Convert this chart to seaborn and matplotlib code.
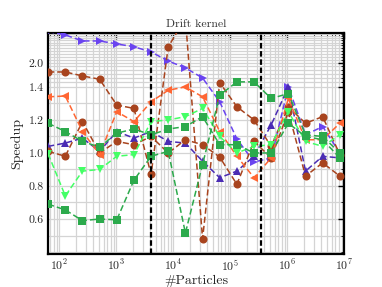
import numpy as np
import pandas as pd
import matplotlib
matplotlib.use("Agg")
import matplotlib.pyplot as plt
import matplotlib.ticker as mticker
import seaborn as sns

# particle counts: powers of two from 2^6 to 2^23
particles = [2 ** k for k in range(6, 24)]

# speedup per series
blue_right = [3.20, 3.04, 2.78, 2.78, 2.66, 2.55, 2.36, 2.06, 1.86, 1.60,
              1.31, 1.085, 0.945, 0.97, 1.40, 1.11, 1.16, 1.00]
blue_up = [1.04, 1.06, 1.09, 1.01, 1.13, 1.09, 1.13, 1.07, 1.06, 0.95,
           0.85, 0.89, 0.98, 1.17, 1.40, 0.89, 0.98, 0.97]
brown_a = [1.75, 1.75, 1.65, 1.57, 1.29, 1.27, 0.87, 2.55, 3.90, 0.48,
           1.49, 1.28, 1.20, 1.04, 1.28, 1.18, 1.22, 0.99]
brown_b = [1.01, 0.98, 1.19, 1.00, 1.07, 1.05, 1.10, 1.00, 1.08, 1.05,
           0.975, 0.81, 1.07, 0.97, 1.25, 0.86, 0.94, 0.86]
orange_left = [1.34, 1.345, 1.13, 0.99, 1.25, 1.19, 1.31, 1.38, 1.40, 1.34,
               1.13, 0.98, 0.85, 0.97, 1.33, 1.08, 1.08, 1.18]
lime_down = [0.995, 0.74, 0.89, 0.90, 0.98, 0.99, 1.19, 1.20, 1.22, 1.27,
             1.10, 1.00, 1.04, 1.05, 1.25, 1.07, 1.04, 1.11]
green_a = [0.69, 0.655, 0.59, 0.60, 0.595, 0.835, 0.98, 1.01, 0.515, 0.93,
           1.35, 1.51, 1.51, 1.33, 1.36, 1.11, 1.10, 1.00]
green_b = [1.18, 1.13, 1.07, 1.035, 1.12, 1.145, 1.11, 1.145, 1.16, 1.22,
           1.05, 1.05, 1.00, 1.00, 1.18, 1.10, 1.08, 0.97]

cache_limits = [4096, 350000]
ytick_vals = [0.6, 0.8, 1.0, 1.2, 1.4, 2.0]

series = {
    "blue_right": blue_right, "blue_up": blue_up,
    "brown_a": brown_a, "brown_b": brown_b,
    "orange_left": orange_left, "lime_down": lime_down,
    "green_a": green_a, "green_b": green_b,
}
colors = {
    "blue_right": "#6a44f0", "blue_up": "#4a2cb4",
    "brown_a": "#a8441e", "brown_b": "#a8441e",
    "orange_left": "#ff6633", "lime_down": "#44ff66",
    "green_a": "#2caa4c", "green_b": "#2caa4c",
}
markers = {
    "blue_right": ">", "blue_up": "^",
    "brown_a": "o", "brown_b": "o",
    "orange_left": "<", "lime_down": "v",
    "green_a": "s", "green_b": "s",
}

rows = []
for name, vals in series.items():
    for n, v in zip(particles, vals):
        rows.append({"n": n, "speedup": v, "series": name})
df = pd.DataFrame(rows)

sns.set_style("white")
plt.rcParams["font.family"] = "serif"
plt.rcParams["font.serif"] = ["cmr10", "DejaVu Serif"]
plt.rcParams["mathtext.fontset"] = "cm"
plt.rcParams["axes.formatter.use_mathtext"] = True
plt.rcParams["axes.unicode_minus"] = False


# linear up to 1.4, log-compressed above
def fwd(y):
    y = np.asarray(y, dtype=float)
    return np.where(y <= 1.4, y, 1.4 + 0.406 * np.log(np.maximum(y, 1e-9) / 1.4))


def inv(z):
    z = np.asarray(z, dtype=float)
    return np.where(z <= 1.4, z, 1.4 * np.exp((z - 1.4) / 0.406))


fig = plt.figure(figsize=(3.82, 2.87), dpi=100)
ax = fig.add_axes([0.126, 0.115, 0.775, 0.77])

sns.lineplot(data=df, x="n", y="speedup", hue="series", style="series",
             palette=colors, markers=markers,
             dashes={k: (4, 2) for k in series},
             linewidth=1.1, markersize=5.8, markeredgewidth=0,
             legend=False, ax=ax, zorder=3)

for c in cache_limits:
    ax.axvline(c, color="black", linestyle=(0, (2.5, 1.2)), linewidth=1.6, zorder=4)

ax.set_xscale("log")
ax.set_yscale("function", functions=(fwd, inv))
ax.set_xlim(64, 1e7)
ax.set_ylim(0.388, 3.13)

ax.yaxis.set_major_locator(mticker.FixedLocator(ytick_vals))
ax.yaxis.set_major_formatter(mticker.FormatStrFormatter("%.1f"))
ax.yaxis.set_minor_locator(mticker.FixedLocator(np.arange(0.4, 3.15, 0.1)))
ax.yaxis.set_minor_formatter(mticker.NullFormatter())
ax.xaxis.set_minor_locator(mticker.LogLocator(base=10, subs=np.arange(2, 10), numticks=20))

ax.grid(True, which="both", color="#d4d4d4", linewidth=0.9, zorder=0)
ax.set_axisbelow(True)

for s in ax.spines.values():
    s.set_color("black")
    s.set_linewidth(1.6)
ax.tick_params(which="both", direction="in", top=True, right=True,
               color="black", labelsize=8.5, pad=3)
ax.tick_params(which="major", length=4, width=1)
ax.tick_params(which="minor", length=2, width=0.6)

ax.set_title("Drift kernel", fontsize=8.5, color="#333333", pad=4)
ax.set_xlabel("#Particles", fontsize=10, labelpad=1)
ax.set_ylabel("Speedup", fontsize=10, labelpad=4)

fig.savefig("out.png", dpi=100)
